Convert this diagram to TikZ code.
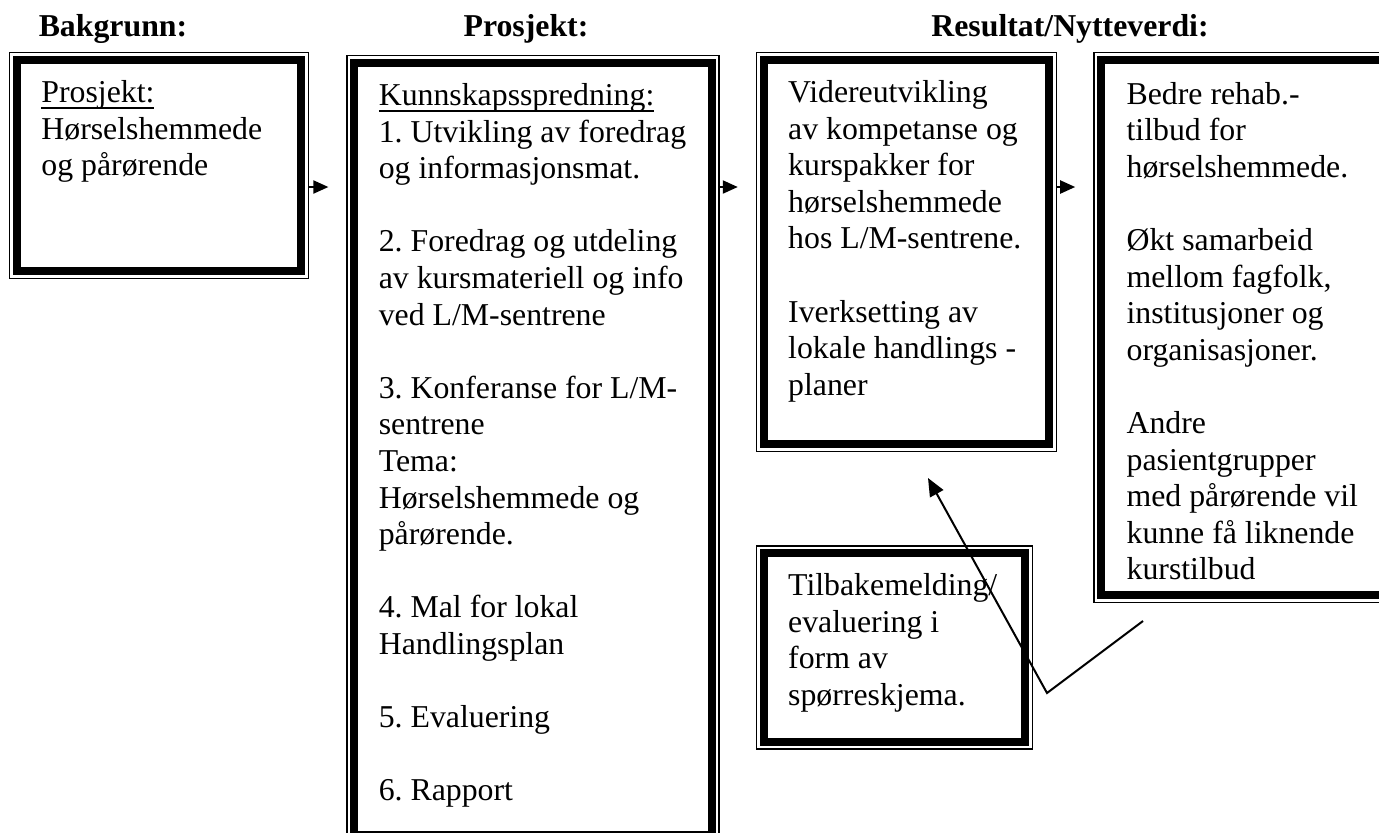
\documentclass[tikz,border=0pt]{standalone}
\usepackage{fontspec}
\setmainfont{Liberation Serif}
\usetikzlibrary{arrows.meta,positioning}
\frenchspacing
\newcommand\brodtekst{\fontsize{15.9pt}{18.3pt}\selectfont}
\newcommand\understrek[1]{\setbox0\hbox{#1}\rlap{\rule[-3pt]{\wd0}{0.7pt}}\box0}
\tikzset{
    %Define standard arrow tip
    >={Triangle[length=7.5pt,width=6.5pt]},
    %Define style for boxes
    ramme/.style={
           rectangle,
           draw=black,
           line width=0.7pt,
           inner sep=0pt,
           anchor=north west},
    % thick inner border
    tykk/.style={line width=4pt},
    % Define style for box text
    tekst/.style={
           anchor=north west,
           inner sep=0pt,
           align=left,
           font=\brodtekst},
    overskrift/.style={
           anchor=base,
           inner sep=0pt,
           font=\brodtekst\bfseries},
    % Define arrow style
    pil/.style={
           ->,
           line width=1pt,
           shorten >=9pt},
    tilbakepil/.style={
           -{Triangle[length=9pt,width=7.5pt]},
           line width=1pt}
}

\begin{document}
\begin{tikzpicture}[x=0.5pt,y=-0.5pt]
  \useasboundingbox (0,0) rectangle (1379,832);
  \clip (0,0) rectangle (1379,832);
  % headings
  \node[overskrift] (hBak) at (113,36) {Bakgrunn:};
  \node[overskrift] (hPro) at (526,36) {Prosjekt:};
  \node[overskrift] (hRes) at (1070,36) {Resultat/Nytteverdi:};
  % boxes
  \node[ramme,minimum width=149.5pt,minimum height=113pt] (b1) at (9,52) {};
  \node[ramme,minimum width=186pt,minimum height=393.5pt,
        right=18.5pt of b1.north east,anchor=north west,yshift=-1.5pt] (b2) {};
  \node[ramme,minimum width=150pt,minimum height=199.5pt,
        right=18pt of b2.north east,anchor=north west,yshift=1.5pt] (b3) {};
  \node[ramme,minimum width=148pt,minimum height=275pt,
        right=18pt of b3.north east,anchor=north west] (b4) {};
  \node[ramme,minimum width=138pt,minimum height=101.5pt,
        below=46.5pt of b3.south west,anchor=north west] (b5) {};
  \foreach \b in {b1,b2,b3,b4,b5}
    \draw[tykk] ([shift={(8,-8)}]\b.south west) rectangle ([shift={(-8,8)}]\b.north east);
  % box texts
  \node[tekst] (t1) at ([shift={(32,24.5)}]b1.north west)
    {\strut\understrek{Prosjekt:}\\
     Hørselshemmede\\
     og pårørende};
  \node[tekst] (t2) at ([shift={(32,24.5)}]b2.north west)
    {\strut\understrek{Kunnskapsspredning:}\\
     1. Utvikling av foredrag\\
     og informasjonsmat.\\[18.3pt]
     2. Foredrag og utdeling\\
     av kursmateriell og info\\
     ved L/M-sentrene\\[18.3pt]
     3. Konferanse for L/M-\\
     sentrene\\
     Tema:\\
     Hørselshemmede og\\
     pårørende.\\[18.3pt]
     4. Mal for lokal\\
     Handlingsplan\\[18.3pt]
     5. Evaluering\\[18.3pt]
     6. Rapport};
  \node[tekst] (t3) at ([shift={(32,24.5)}]b3.north west)
    {\strut Videreutvikling\\
     av kompetanse og\\
     kurspakker for\\
     hørselshemmede\\
     hos L/M-sentrene.\\[18.3pt]
     Iverksetting av\\
     lokale handlings -\\
     planer};
  \node[tekst] (t4) at ([shift={(33,26)}]b4.north west)
    {\strut Bedre rehab.-\\
     tilbud for\\
     hørselshemmede.\\[18.3pt]
     Økt samarbeid\\
     mellom fagfolk,\\
     institusjoner og\\
     organisasjoner.\\[18.3pt]
     Andre\\
     pasientgrupper\\
     med pårørende vil\\
     kunne få liknende\\
     kurstilbud};
  \node[tekst] (t5) at ([shift={(32,24)}]b5.north west)
    {\strut Tilbakemelding/\\
     evaluering i\\
     form av\\
     spørreskjema.};
  % arrows
  \coordinate (pilrad) at (0,187);
  \draw[pil] (b1.east |- pilrad) -- (b2.west |- pilrad);
  \draw[pil] (b2.east |- pilrad) -- (b3.west |- pilrad);
  \draw[pil] (b3.east |- pilrad) -- (b4.west |- pilrad);
  % feedback
  \coordinate (fra) at (1143,621);
  \coordinate (knekk) at (1047,693);
  \coordinate (til) at (928,478);
  \draw[tilbakepil] (fra) -- (knekk) -- (til);
\end{tikzpicture}
\end{document}
